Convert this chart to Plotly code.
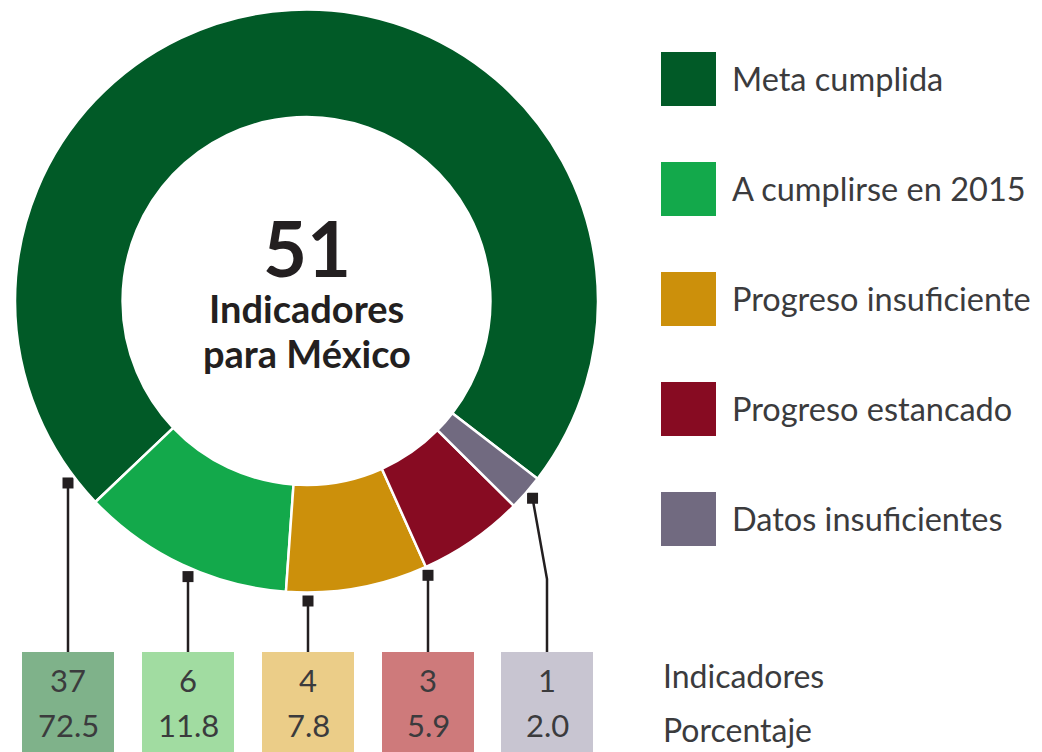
import math
import plotly.graph_objects as go

# ---- data ----
labels = ["Meta cumplida", "A cumplirse en 2015", "Progreso insuficiente",
          "Progreso estancado", "Datos insuficientes"]
indicadores = [37, 6, 4, 3, 1]
porcentaje = ["72.5", "11.8", "7.8", "5.9", "2.0"]
total_text = "51"
center_lines = ["Indicadores", "para México"]
row_labels = ["Indicadores", "Porcentaje"]

slice_colors = ["#015a27", "#13a94b", "#cc900b", "#870b22", "#716a80"]
box_colors = ["#7fb28a", "#a1dca1", "#ebcd88", "#ce7a7b", "#c8c5d1"]

W, H = 1042, 752
OFF = 8  # page body margin compensation
cx, cy, R = 306.5, 301.0, 291.5
HOLE = 0.631
ROT = -133.6  # boundary between first and second slice (clockwise from 12 o'clock)
TXT = "#3b3b3d"
DARK = "#231f20"
FONT = "Lato"

fig = go.Figure()

# hidden pixel-space axes for annotations / leaders
fig.update_xaxes(range=[OFF, W + OFF], visible=False, domain=[0, 1], fixedrange=True)
fig.update_yaxes(range=[H + OFF, OFF], visible=False, domain=[0, 1], fixedrange=True)

fig.add_trace(go.Pie(
    labels=labels, values=indicadores, hole=HOLE, sort=False,
    direction="counterclockwise", rotation=ROT,
    marker=dict(colors=slice_colors, line=dict(color="white", width=2.5)),
    textinfo="none", hoverinfo="label+value+percent", showlegend=False,
    domain=dict(x=[(cx - R - OFF) / W, (cx + R - OFF) / W],
                y=[(H - (cy + R - OFF)) / H, (H - (cy - R - OFF)) / H]),
))

# leader geometry
box_cx = [68 + 120 * i for i in range(5)]
box_cx[4] = 547
box_w, box_top = 92, 652
r_mark = R + 8.5
total = sum(indicadores)

mx, my = [], []
shapes = []
cum = 0
for i, v in enumerate(indicadores):
    if i == 0:
        mid = ROT + v / 2 / total * 360
    else:
        mid = ROT - (cum + v / 2) / total * 360
        cum += v
    if i < 4:
        x = box_cx[i]
        y = cy + math.sqrt(r_mark ** 2 - (x - cx) ** 2)
        shapes.append(dict(type="line", x0=x, x1=x, y0=y, y1=box_top,
                           line=dict(color=DARK, width=2.5)))
    else:
        a = math.radians(mid)
        x = cx + r_mark * math.sin(a)
        y = cy - r_mark * math.cos(a)
        ex, ey = box_cx[i], 579
        shapes.append(dict(type="path",
                           path=f"M {x},{y} L {ex},{ey} L {ex},{box_top}",
                           line=dict(color=DARK, width=2.5)))
    mx.append(x)
    my.append(y)

fig.add_trace(go.Scatter(x=mx, y=my, mode="markers", hoverinfo="skip",
                         marker=dict(symbol="square", size=11, color=DARK),
                         showlegend=False))

annotations = []
# value boxes
for i in range(5):
    shapes.append(dict(type="rect", x0=box_cx[i] - box_w / 2, x1=box_cx[i] + box_w / 2,
                       y0=box_top, y1=H + OFF + 10, fillcolor=box_colors[i],
                       line=dict(width=0), layer="below"))
    annotations.append(dict(x=box_cx[i], y=680, text=str(indicadores[i]),
                            showarrow=False, font=dict(size=31, color=TXT, family=FONT)))
    annotations.append(dict(x=box_cx[i], y=725, text=porcentaje[i],
                            showarrow=False, font=dict(size=31, color=TXT, family=FONT)))

# row labels
for j, t in enumerate(row_labels):
    annotations.append(dict(x=661, y=675 + 54 * j, text=t, xanchor="left",
                            showarrow=False, font=dict(size=32, color=TXT, family=FONT)))

# legend
for i, lab in enumerate(labels):
    yc = 79 + 110 * i
    shapes.append(dict(type="rect", x0=661, x1=716, y0=yc - 27, y1=yc + 27,
                       fillcolor=slice_colors[i], line=dict(width=0)))
    annotations.append(dict(x=730, y=yc - 1, text=lab, xanchor="left", yanchor="middle",
                            showarrow=False, font=dict(size=32.5, color=TXT, family=FONT)))

# centre text
annotations.append(dict(x=cx, y=247, text=f"<b>{total_text}</b>", showarrow=False,
                        font=dict(size=76, color=DARK, family=FONT)))
annotations.append(dict(x=cx, y=308, text=f"<b>{center_lines[0]}</b>", showarrow=False,
                        font=dict(size=38, color=DARK, family=FONT)))
annotations.append(dict(x=cx, y=353, text=f"<b>{center_lines[1]}</b>", showarrow=False,
                        font=dict(size=38, color=DARK, family=FONT)))

fig.update_layout(width=W, height=H, margin=dict(l=0, r=0, t=0, b=0),
                  paper_bgcolor="white", plot_bgcolor="white",
                  shapes=shapes, annotations=annotations)

fig.write_html("out.html")
